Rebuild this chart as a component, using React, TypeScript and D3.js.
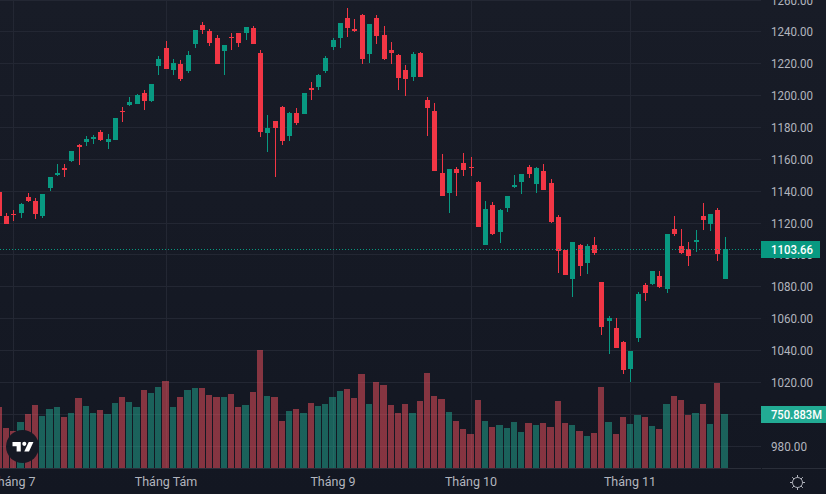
import * as d3 from 'd3';

// daily candles (VND index style scale)
const opens = [1139.5, 1124.4, 1125.7, 1126.3, 1136.3, 1133.8, 1124.4, 1142.0, 1150.2, 1154.5, 1158.9, 1169.0, 1170.9, 1172.7, 1177.1, 1170.9, 1172.1, 1190.3, 1194.1, 1194.7, 1201.6, 1196.6, 1218.6, 1229.9, 1216.1, 1219.8, 1215.4, 1232.4, 1244.3, 1240.5, 1236.1, 1228.0, 1236.8, 1239.3, 1239.3, 1242.4, 1226.7, 1176.5, 1184.0, 1192.8, 1174.6, 1189.1, 1188.4, 1204.8, 1205.4, 1215.4, 1230.5, 1236.1, 1248.7, 1241.8, 1250.6, 1226.1, 1248.7, 1238.0, 1228.6, 1225.5, 1216.1, 1211.7, 1226.7, 1197.2, 1190.3, 1151.4, 1138.9, 1153.9, 1157.7, 1155.2, 1145.8, 1106.2, 1131.3, 1114.4, 1129.4, 1142.6, 1145.8, 1155.2, 1144.5, 1152.7, 1145.1, 1123.8, 1103.1, 1084.9, 1106.2, 1094.9, 1106.2, 1083.0, 1058.5, 1054.1, 1045.3, 1028.4, 1047.8, 1081.1, 1081.7, 1086.8, 1078.6, 1116.3, 1105.6, 1103.7, 1108.1, 1124.4, 1119.4, 1128.2, 1084.9];
const highs = [1139.5, 1126.3, 1128.2, 1132.6, 1138.9, 1135.7, 1138.2, 1148.9, 1157.1, 1157.1, 1165.2, 1169.6, 1174.6, 1175.3, 1178.4, 1175.9, 1185.9, 1192.8, 1199.1, 1201.0, 1203.5, 1207.3, 1224.8, 1234.3, 1223.0, 1222.3, 1228.0, 1241.2, 1246.2, 1241.8, 1238.0, 1231.8, 1239.3, 1239.3, 1243.1, 1243.7, 1228.6, 1187.8, 1184.0, 1193.5, 1189.7, 1192.2, 1201.6, 1208.5, 1213.5, 1224.8, 1236.1, 1245.6, 1255.0, 1248.1, 1251.2, 1244.9, 1250.6, 1243.7, 1233.6, 1226.1, 1219.2, 1227.4, 1227.4, 1199.1, 1195.3, 1163.3, 1153.9, 1155.2, 1164.0, 1161.5, 1146.4, 1133.8, 1133.2, 1128.8, 1137.0, 1150.2, 1150.8, 1156.4, 1155.2, 1157.1, 1147.6, 1125.0, 1103.1, 1108.1, 1106.8, 1106.8, 1111.2, 1083.0, 1061.6, 1060.4, 1045.9, 1039.7, 1076.7, 1082.4, 1089.9, 1089.9, 1113.1, 1124.4, 1116.3, 1108.1, 1115.6, 1132.6, 1125.7, 1129.4, 1111.2];
const lows = [1124.4, 1119.4, 1121.3, 1123.2, 1133.2, 1122.5, 1123.2, 1140.1, 1149.5, 1148.9, 1158.3, 1156.4, 1168.4, 1169.6, 1171.5, 1166.5, 1172.1, 1183.4, 1193.5, 1194.7, 1191.0, 1196.0, 1212.9, 1216.7, 1212.9, 1209.2, 1214.2, 1229.9, 1238.7, 1231.1, 1219.8, 1212.9, 1228.6, 1230.5, 1234.9, 1232.4, 1174.0, 1164.6, 1148.9, 1169.0, 1171.5, 1181.5, 1188.4, 1197.2, 1203.5, 1214.2, 1228.6, 1229.9, 1236.8, 1239.9, 1219.8, 1220.5, 1232.4, 1222.3, 1219.8, 1203.5, 1199.7, 1209.2, 1211.7, 1174.6, 1152.7, 1137.0, 1126.3, 1137.0, 1149.5, 1149.5, 1117.5, 1106.2, 1112.5, 1107.5, 1126.9, 1142.0, 1138.2, 1148.3, 1138.9, 1140.7, 1120.0, 1088.6, 1087.4, 1073.6, 1086.8, 1088.0, 1099.9, 1049.7, 1037.8, 1041.6, 1025.2, 1020.2, 1045.3, 1071.1, 1081.1, 1079.2, 1076.1, 1111.9, 1100.6, 1093.0, 1101.8, 1115.6, 1115.0, 1096.2, 1084.9];
const closes = [1124.4, 1119.4, 1125.0, 1131.9, 1133.8, 1125.7, 1138.2, 1148.9, 1151.4, 1153.3, 1165.2, 1167.7, 1172.7, 1174.0, 1172.1, 1172.7, 1185.9, 1189.7, 1196.0, 1200.4, 1196.6, 1207.3, 1223.0, 1216.7, 1220.5, 1210.4, 1225.5, 1241.2, 1241.2, 1233.0, 1219.8, 1231.8, 1236.1, 1233.0, 1243.1, 1232.4, 1177.1, 1179.7, 1179.7, 1171.5, 1189.1, 1182.8, 1201.6, 1203.5, 1212.9, 1223.6, 1234.9, 1245.6, 1242.4, 1240.5, 1223.0, 1244.9, 1237.4, 1223.0, 1226.7, 1211.0, 1210.4, 1226.1, 1211.7, 1192.2, 1152.7, 1137.0, 1153.9, 1151.4, 1153.3, 1154.5, 1117.5, 1128.8, 1113.1, 1128.2, 1137.0, 1143.9, 1150.8, 1150.8, 1154.5, 1140.7, 1120.6, 1102.4, 1087.4, 1108.1, 1093.0, 1105.6, 1101.2, 1054.7, 1060.4, 1041.6, 1027.8, 1039.7, 1075.5, 1076.1, 1089.9, 1079.9, 1113.1, 1113.1, 1101.2, 1099.3, 1109.4, 1121.9, 1125.7, 1100.6, 1103.66];
// volume in millions
const volumes = [848, 556, 514, 639, 751, 876, 723, 820, 848, 709, 765, 973, 862, 765, 806, 751, 904, 987, 917, 848, 1084, 1043, 1126, 1209, 848, 987, 1084, 1112, 1112, 1015, 987, 987, 1029, 848, 876, 1056, 1640, 1001, 987, 653, 792, 820, 765, 904, 862, 890, 987, 1070, 1098, 973, 1307, 890, 1195, 1154, 876, 765, 890, 765, 931, 1321, 1001, 959, 778, 653, 542, 473, 945, 653, 570, 598, 556, 639, 500, 626, 598, 626, 570, 931, 626, 598, 514, 445, 487, 1126, 639, 473, 709, 612, 737, 709, 584, 542, 890, 1001, 945, 737, 765, 890, 612, 1182, 750.883];

const priceTicks = [1260, 1240, 1220, 1200, 1180, 1160, 1140, 1120, 1100, 1080, 1060, 1040, 1020, 1000, 980];
const monthIndex = [2, 23, 46, 65, 87];
const monthLabels = ['Tháng 7', 'Tháng Tám', 'Tháng 9', 'Tháng 10', 'Tháng 11'];

const lastPrice = 1103.66;
const lastVolume = 750.883;

const width = 826;
const height = 494;
const plotRight = 761;
const plotBottom = 468;

const green = '#089981';
const red = '#f23645';
const gridColor = '#232733';
const textColor = '#b2b5be';
const font = 'Roboto, sans-serif';
const fontSize = 12.5;

const App = () => {
    const x = d3.scaleLinear().domain([0, 100]).range([-0.75, 725.25]);
    const y = d3.scaleLinear().domain([1260, 980]).range([0, 446]);
    const yVol = d3.scaleLinear().domain([0, 1640]).range([plotBottom, 350]);
    const px = (i: number) => Math.floor(x(i));
    const fmtPrice = d3.format('.2f');

    const candles = d3.range(opens.length).map(i => ({
        i,
        open: opens[i],
        high: highs[i],
        low: lows[i],
        close: closes[i],
        vol: volumes[i],
        up: closes[i] >= opens[i]
    }));

    const gear = d3.range(8).map(k => (k * Math.PI) / 4);

    return (
        <svg width={width} height={height} style={{ position: 'fixed', left: 0, top: 0, display: 'block' }}>
            <defs>
                <linearGradient id="bg" x1="0" y1="0" x2="0" y2="1">
                    <stop offset="0%" stopColor="#181c27" />
                    <stop offset="100%" stopColor="#131722" />
                </linearGradient>
            </defs>
            <rect width={width} height={height} fill="url(#bg)" />

            {/* grid */}
            {priceTicks.map(t => (
                <rect key={t} x={0} y={Math.floor(y(t))} width={plotRight} height={1} fill={gridColor} />
            ))}
            {monthIndex.map(m => (
                <rect key={m} x={px(m)} y={0} width={1} height={plotBottom} fill={gridColor} />
            ))}
            <rect x={0} y={plotBottom} width={plotRight} height={1} fill="#2a2e39" />
            <rect x={plotRight + 1} y={plotBottom} width={width - plotRight} height={1} fill="#2a2e39" />

            {/* volume */}
            {candles.map(c => {
                const left = c.i === 0 ? -4 : px(c.i - 1) + 4;
                const right = px(c.i) + 3;
                return (
                    <rect
                        key={c.i}
                        x={left}
                        y={Math.round(yVol(c.vol))}
                        width={right - left}
                        height={plotBottom - Math.round(yVol(c.vol))}
                        fill={c.up ? 'rgba(34,171,148,0.5)' : 'rgba(247,82,95,0.5)'}
                    />
                );
            })}

            {/* candles */}
            {candles.map(c => {
                const color = c.up ? green : red;
                const top = Math.round(y(Math.max(c.open, c.close)));
                const bottom = Math.round(y(Math.min(c.open, c.close)));
                return (
                    <g key={c.i} fill={color}>
                        <rect x={px(c.i)} y={Math.round(y(c.high))} width={1} height={Math.round(y(c.low)) - Math.round(y(c.high))} />
                        <rect x={px(c.i) - 2} y={top} width={5} height={Math.max(1, bottom - top)} />
                    </g>
                );
            })}

            {/* last price line */}
            <line x1={0} x2={plotRight} y1={249.5} y2={249.5} stroke={green} strokeWidth={1} strokeDasharray="1 2" />

            {/* price axis, 1000.00 sits fully under the volume tag */}
            <g fontFamily={font} fontSize={fontSize} fill={textColor}>
                {priceTicks.filter(t => t !== 1000).map(t => (
                    <text key={t} x={771} y={y(t)} dy="0.36em" textLength={fmtPrice(t).length * 6} lengthAdjust="spacingAndGlyphs">{fmtPrice(t)}</text>
                ))}
            </g>
            <rect x={plotRight} y={241} width={59} height={17} fill={green} />
            <text x={771} y={y(lastPrice)} dy="0.36em" fontFamily={font} fontSize={fontSize} fontWeight={500} fill="#ffffff" textLength={42} lengthAdjust="spacingAndGlyphs">{fmtPrice(lastPrice)}</text>
            <rect x={plotRight} y={406} width={width - plotRight} height={17} fill="#22ab94" />
            <text x={771} y={Math.round(yVol(lastVolume)) + 0.5} dy="0.36em" fontFamily={font} fontSize={fontSize} fontWeight={500} fill="#ffffff" textLength={51} lengthAdjust="spacingAndGlyphs">{d3.format('.3f')(lastVolume)}M</text>

            {/* time axis */}
            <g fontFamily={font} fontSize={fontSize} fill={textColor} textAnchor="middle">
                {monthIndex.map((m, i) => (
                    <text key={m} x={px(m)} y={486}>{monthLabels[i]}</text>
                ))}
            </g>

            {/* logo */}
            <circle cx={22.5} cy={446.5} r={16.5} fill="#151924" />
            <g transform="translate(12.5,438.5) scale(0.59)" fill="#ffffff">
                <path d="M14 6H0v7h7v9h7V6Zm14 16h-8l7.5-16h8L28 22Zm-8-9.5a3.5 3.5 0 1 0 0-7 3.5 3.5 0 0 0 0 7Z" />
            </g>

            {/* settings icon */}
            <g stroke={textColor} strokeWidth={1} fill="none">
                <circle cx={797.5} cy={482.5} r={5} />
                {gear.map((a, k) => (
                    <line key={k} x1={797.5 + 5 * Math.cos(a)} y1={482.5 + 5 * Math.sin(a)} x2={797.5 + 7.5 * Math.cos(a)} y2={482.5 + 7.5 * Math.sin(a)} />
                ))}
            </g>
        </svg>
    );
};

export default App;
